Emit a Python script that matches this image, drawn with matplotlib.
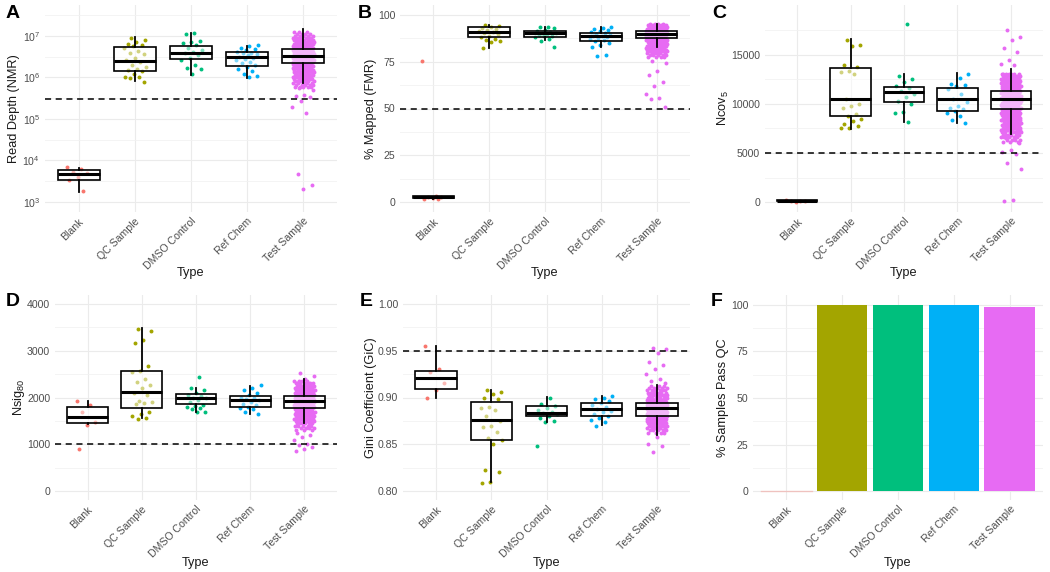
import matplotlib
matplotlib.use('Agg')
import matplotlib.pyplot as plt
import numpy as np
from matplotlib.ticker import FixedLocator, NullFormatter

plt.rcParams['font.family'] = ['Liberation Sans', 'DejaVu Sans']
plt.rcParams['mathtext.fontset'] = 'custom'
plt.rcParams['mathtext.rm'] = 'Liberation Sans'
plt.rcParams['mathtext.it'] = 'Liberation Sans:italic'

types = ['Blank', 'QC Sample', 'DMSO Control', 'Ref Chem', 'Test Sample']
colors = ['#F8766D', '#A3A500', '#00BF7D', '#00B0F6', '#E76BF3']

# --- A: read depth -------------------------------------------------------
depth_pts = [
    [6800, 6400, 5300, 5000, 4000, 3400, 1800],
    [9.0e6, 7.9e6, 7.0e6, 6.5e6, 6.0e6, 5.8e6, 5.0e6, 4.4e6, 4.0e6, 3.6e6, 3.0e6, 2.6e6,
     2.3e6, 2.0e6, 1.8e6, 1.6e6, 1.5e6, 1.4e6, 1.2e6, 1.05e6, 1.0e6, 9.5e5, 8.0e5],
    [1.2e7, 1.1e7, 7.5e6, 7.0e6, 6.6e6, 6.0e6, 5.0e6, 4.5e6, 4.2e6, 3.8e6, 3.4e6, 3.0e6,
     2.6e6, 2.0e6, 1.7e6, 1.6e6, 1.2e6],
    [6.2e6, 5.8e6, 5.2e6, 4.8e6, 4.5e6, 4.2e6, 4.0e6, 3.8e6, 3.6e6, 3.4e6, 3.2e6, 3.0e6,
     2.8e6, 2.6e6, 2.4e6, 2.2e6, 2.0e6, 1.8e6, 1.6e6, 1.4e6, 1.2e6, 1.1e6, 1.0e6],
    [5.5e5, 5.0e5, 3.8e5, 3.5e5, 3.3e5, 2.7e5, 2.0e5, 1.4e5, 4700, 2600, 2100],
]
depth_core = [6.0e5, 6.7e5, 7.5e5, 8.4e5, 9.4e5, 1.05e6, 1.18e6, 1.32e6, 1.48e6, 1.66e6,
              1.86e6, 2.08e6, 2.33e6, 2.61e6, 2.92e6, 3.27e6, 3.66e6, 4.1e6, 4.6e6, 5.15e6,
              5.77e6, 6.46e6, 7.24e6, 8.1e6, 9.1e6, 1.02e7, 1.14e7, 1.28e7]
depth_core_n = [5, 5, 5, 6, 7, 8, 8, 9, 9, 10, 10, 10, 10, 10, 10, 10, 10, 10, 10, 10,
                9, 9, 8, 8, 7, 5, 4, 3]
depth_box = [(1740, 3400, 4700, 5900, 6600), (8.2e5, 1.46e6, 2.45e6, 5.5e6, 9.3e6),
             (1.15e6, 2.8e6, 3.8e6, 5.7e6, 1.16e7), (9.6e5, 1.9e6, 3.1e6, 4.2e6, 5.9e6),
             (7.2e5, 2.2e6, 3.3e6, 4.8e6, 1.45e7)]

# --- B: % mapped ---------------------------------------------------------
mapped_pts = [
    [75.5, 3.2, 2.8, 2.5, 2.2, 1.8, 1.5],
    [94.5, 94.0, 93.5, 93.0, 92.5, 92.0, 91.5, 91.0, 90.5, 90.0, 89.0, 88.0, 87.0, 86.5,
     86.0, 85.5, 82.5],
    [93.8, 93.5, 92.8, 92.0, 91.5, 91.0, 90.5, 90.2, 90.0, 89.5, 89.0, 88.5, 88.0, 87.0,
     86.0, 83.0],
    [93.8, 93.0, 92.5, 92.0, 91.5, 91.0, 90.5, 90.0, 89.5, 89.0, 88.5, 88.0, 87.5, 87.0,
     86.5, 86.0, 85.0, 84.0, 83.0, 78.5, 78.3],
    [75.3, 74.5, 70.0, 68.0, 64.0, 62.0, 57.5, 55.5, 55.0, 51.0],
]
mapped_core = [77.5, 78.5, 79.5, 80.5, 81.5, 82.5, 83.5, 84.5, 85.5, 86.5, 87.5, 88.5,
               89.5, 90.5, 91.5, 92.5, 93.5, 94.5, 95.2]
mapped_core_n = [4, 5, 6, 6, 7, 8, 9, 9, 10, 10, 10, 10, 10, 10, 10, 10, 9, 7, 4]
mapped_box = [(1.6, 2.2, 2.7, 3.2, 3.4), (82.5, 88.4, 91.1, 93.4, 94.7),
              (86.5, 88.4, 90.2, 91.6, 93.7), (83.0, 86.3, 88.8, 90.5, 93.7),
              (82.7, 87.5, 89.7, 91.6, 95.0)]

# --- C: Ncov5 ------------------------------------------------------------
ncov_pts = [
    [220, 150, 100, 80, 40],
    [16500, 16000, 15900, 14000, 13800, 13400, 13300, 13100, 10500, 10000, 9800, 9600,
     9000, 8800, 8500, 8300, 8000, 7800, 7600, 7500],
    [18200, 12900, 12600, 12200, 11800, 11600, 11300, 11000, 10700, 10300, 10000, 9200,
     9100, 8200],
    [13100, 12700, 12000, 11900, 11800, 11500, 11000, 10500, 10200, 9800, 9600, 9500,
     9300, 9100, 8800, 8400, 8100],
    [17500, 16800, 16500, 15700, 15300, 14500, 14100, 14000, 6500, 6000, 5300, 5100,
     4900, 4000, 3400, 200, 100],
]
ncov_core = [6100, 6350, 6600, 6850, 7100, 7350, 7600, 7850, 8100, 8350, 8600, 8850,
             9100, 9350, 9600, 9850, 10100, 10350, 10600, 10850, 11100, 11350, 11600,
             11850, 12100, 12350, 12600, 12850, 13100]
ncov_core_n = [3, 4, 5, 6, 7, 7, 8, 8, 9, 9, 10, 10, 10, 10, 10, 10, 10, 10, 10, 10,
               10, 10, 10, 10, 10, 9, 9, 8, 7]
ncov_box = [(30, 60, 120, 180, 220), (7420, 8780, 10510, 13700, 16600),
            (8200, 10170, 11260, 11700, 13060), (8030, 9290, 10510, 11600, 13200),
            (6940, 9520, 10540, 11360, 13570)]

# --- D: Nsig80 -----------------------------------------------------------
nsig_pts = [
    [1930, 1850, 1680, 1480, 1420, 900],
    [3470, 3430, 3220, 3170, 2680, 2560, 2550, 2400, 2330, 2270, 2200, 2100, 2050, 1920,
     1900, 1880, 1860, 1700, 1650, 1600, 1560, 1540],
    [2430, 2200, 2150, 2100, 2060, 2040, 2000, 1980, 1950, 1900, 1850, 1820, 1800, 1780,
     1750, 1700, 1680],
    [2260, 2200, 2150, 2100, 2050, 2000, 1980, 1960, 1940, 1900, 1870, 1850, 1800, 1780,
     1750, 1700, 1650],
    [2530, 2450, 2400, 1250, 1200, 1150, 1100, 1000, 980, 950, 900, 850],
]
nsig_core = [1300, 1350, 1400, 1450, 1500, 1550, 1600, 1650, 1700, 1750, 1800, 1850,
             1900, 1950, 2000, 2050, 2100, 2150, 2200, 2250, 2300, 2350]
nsig_core_n = [3, 4, 5, 6, 7, 8, 9, 9, 10, 10, 10, 10, 10, 10, 10, 10, 10, 9, 9, 8, 7, 4]
nsig_box = [(1440, 1448, 1590, 1803, 1932), (1555, 1769, 2124, 2573, 3480),
            (1697, 1855, 1996, 2068, 2196), (1647, 1790, 1946, 2032, 2246),
            (1448, 1782, 1925, 2039, 2396)]

# --- E: Gini coefficient -------------------------------------------------
gini_pts = [
    [0.955, 0.930, 0.927, 0.915, 0.908, 0.900],
    [0.908, 0.906, 0.904, 0.900, 0.898, 0.890, 0.889, 0.887, 0.880, 0.875, 0.870, 0.868,
     0.863, 0.857, 0.855, 0.850, 0.822, 0.820, 0.810, 0.809],
    [0.900, 0.893, 0.891, 0.889, 0.887, 0.885, 0.883, 0.882, 0.880, 0.878, 0.875, 0.874,
     0.848],
    [0.902, 0.900, 0.898, 0.896, 0.894, 0.892, 0.890, 0.888, 0.886, 0.884, 0.882, 0.880,
     0.878, 0.876, 0.874, 0.870],
    [0.953, 0.952, 0.948, 0.938, 0.935, 0.930, 0.925, 0.920, 0.918, 0.915, 0.858, 0.850,
     0.848, 0.842],
]
gini_core = [0.8625, 0.865, 0.8675, 0.870, 0.8725, 0.875, 0.8775, 0.880, 0.8825, 0.885,
             0.8875, 0.890, 0.8925, 0.895, 0.8975, 0.900, 0.9025, 0.905, 0.9075, 0.910,
             0.9125]
gini_core_n = [4, 5, 6, 7, 8, 9, 10, 10, 10, 10, 10, 10, 10, 10, 9, 9, 8, 7, 6, 5, 3]
gini_box = [(0.899, 0.9094, 0.9212, 0.9287, 0.955), (0.810, 0.8545, 0.876, 0.8955, 0.908),
            (0.874, 0.880, 0.8838, 0.891, 0.901), (0.8706, 0.880, 0.8874, 0.8945, 0.9016),
            (0.860, 0.880, 0.8884, 0.8945, 0.9134)]

# --- F: % pass QC --------------------------------------------------------
pass_pct = [0, 100, 100, 100, 99.1]

W, H = 1050, 572
fig = plt.figure(figsize=(W / 100, H / 100), dpi=100)
GOLD = 0.6180339887


def panel(l, t, r, b):
    return fig.add_axes([l / W, 1 - b / H, (r - l) / W, (b - t) / H])


def jitter(n, start=0):
    k = np.arange(start, start + n)
    return ((k * GOLD) % 1 - 0.5) * 0.4


def draw_points(ax, pts, core, core_n):
    for i, vals in enumerate(pts):
        ax.scatter(i + jitter(len(vals), i * 7), vals, s=8, color=colors[i], lw=0, zorder=2)
    ys = np.repeat(core, core_n)
    ax.scatter(4 + jitter(len(ys), 3) * 0.95, ys, s=8, color=colors[4], lw=0, zorder=2)


def draw_box(ax, box):
    stats = [dict(whislo=b[0], q1=b[1], med=b[2], q3=b[3], whishi=b[4]) for b in box]
    ax.bxp(stats, positions=range(5), widths=0.75, patch_artist=True, showfliers=False,
           showcaps=False, manage_ticks=False,
           boxprops=dict(facecolor=(1, 1, 1, 0.5), edgecolor='black', linewidth=1.2),
           medianprops=dict(color='black', linewidth=2.2, solid_capstyle='butt'),
           whiskerprops=dict(color='black', linewidth=1.3), zorder=3)


def style(ax, box_px, ylim, yticks, ylabels, yminor, ylabel, letter, letter_xy, title_x, type_y):
    l, t, r, b = box_px
    ax.set_xlim(-0.6, 4.6)
    ax.set_ylim(*ylim)
    for s in ax.spines.values():
        s.set_visible(False)
    ax.set_xticks(range(5))
    ax.set_xticklabels(types, rotation=45, ha='right', va='top', rotation_mode='anchor')
    ax.yaxis.set_major_locator(FixedLocator(yticks))
    ax.set_yticklabels(ylabels)
    ax.yaxis.set_minor_locator(FixedLocator(yminor))
    ax.yaxis.set_minor_formatter(NullFormatter())
    ax.tick_params(which='both', length=0, labelsize=7.6, labelcolor='#4D4D4D')
    ax.tick_params(axis='y', pad=3.5)
    ax.tick_params(axis='x', pad=3)
    ax.grid(which='major', color='#EBEBEB', lw=0.8)
    ax.grid(which='minor', axis='y', color='#F2F2F2', lw=0.6)
    ax.set_axisbelow(True)
    fig.text(title_x / W, 1 - (t + b) / 2 / H, ylabel, rotation=90, ha='center', va='center',
             fontsize=9.2, color='#1A1A1A')
    fig.text((l + r) / 2 / W, 1 - type_y / H, 'Type', ha='center', va='center',
             fontsize=9.2, color='#1A1A1A')
    fig.text(letter_xy[0] / W, 1 - letter_xy[1] / H, letter, ha='center', va='center',
             fontsize=14, fontweight='bold', color='black')


def hline(ax, y):
    ax.axhline(y, color='black', lw=1.1, ls=(0, (4, 3)), zorder=4)


# A
pa = (45, 5, 337, 212)
ax = panel(*pa)
ax.set_yscale('log')
draw_points(ax, depth_pts, depth_core, depth_core_n)
draw_box(ax, depth_box)
hline(ax, 3e5)
style(ax, pa, (10 ** 2.759, 10 ** 7.747), [1e3, 1e4, 1e5, 1e6, 1e7],
      ['$10^{3}$', '$10^{4}$', '$10^{5}$', '$10^{6}$', '$10^{7}$'],
      [10 ** 3.5, 10 ** 4.5, 10 ** 5.5, 10 ** 6.5, 10 ** 7.5],
      'Read Depth (NMR)', 'A', (13, 14), 14, 273)

# B
pb = (400, 5, 690, 212)
ax = panel(*pb)
draw_points(ax, mapped_pts, mapped_core, mapped_core_n)
draw_box(ax, mapped_box)
hline(ax, 50)
style(ax, pb, (-5.3, 105.3), [0, 25, 50, 75, 100], ['0', '25', '50', '75', '100'],
      [12.5, 37.5, 62.5, 87.5], '% Mapped (FMR)', 'B', (365, 14), 371, 273)

# C
pc = (765, 5, 1043, 212)
ax = panel(*pc)
draw_points(ax, ncov_pts, ncov_core, ncov_core_n)
draw_box(ax, ncov_box)
hline(ax, 5000)
style(ax, pc, (-1020, 20100), [0, 5000, 10000, 15000], ['0', '5000', '10000', '15000'],
      [2500, 7500, 12500, 17500], 'Ncov$_{5}$', 'C', (719, 14), 723, 273)

# D
pd_ = (55, 295, 337, 500)
ax = panel(*pd_)
draw_points(ax, nsig_pts, nsig_core, nsig_core_n)
draw_box(ax, nsig_box)
hline(ax, 1000)
style(ax, pd_, (-193, 4193), [0, 1000, 2000, 3000, 4000], ['0', '1000', '2000', '3000', '4000'],
      [500, 1500, 2500, 3500], 'Nsig$_{80}$', 'D', (13, 301), 19, 563)

# E
pe = (403, 295, 690, 500)
ax = panel(*pe)
draw_points(ax, gini_pts, gini_core, gini_core_n)
draw_box(ax, gini_box)
hline(ax, 0.95)
style(ax, pe, (0.7904, 1.0096), [0.80, 0.85, 0.90, 0.95, 1.00],
      ['0.80', '0.85', '0.90', '0.95', '1.00'], [0.825, 0.875, 0.925, 0.975],
      'Gini Coefficient (GiC)', 'E', (366, 301), 371, 563)

# F
pf = (753, 295, 1043, 500)
ax = panel(*pf)
ax.bar(range(5), pass_pct, width=0.9, color=colors, zorder=2)
ax.plot([-0.45, 0.45], [0, 0], color=colors[0], alpha=0.35, lw=1, zorder=2)
style(ax, pf, (-4.8, 105.3), [0, 25, 50, 75, 100], ['0', '25', '50', '75', '100'],
      [12.5, 37.5, 62.5, 87.5], '% Samples Pass QC', 'F', (717, 301), 723, 563)

fig.savefig('out.png', dpi=100)
